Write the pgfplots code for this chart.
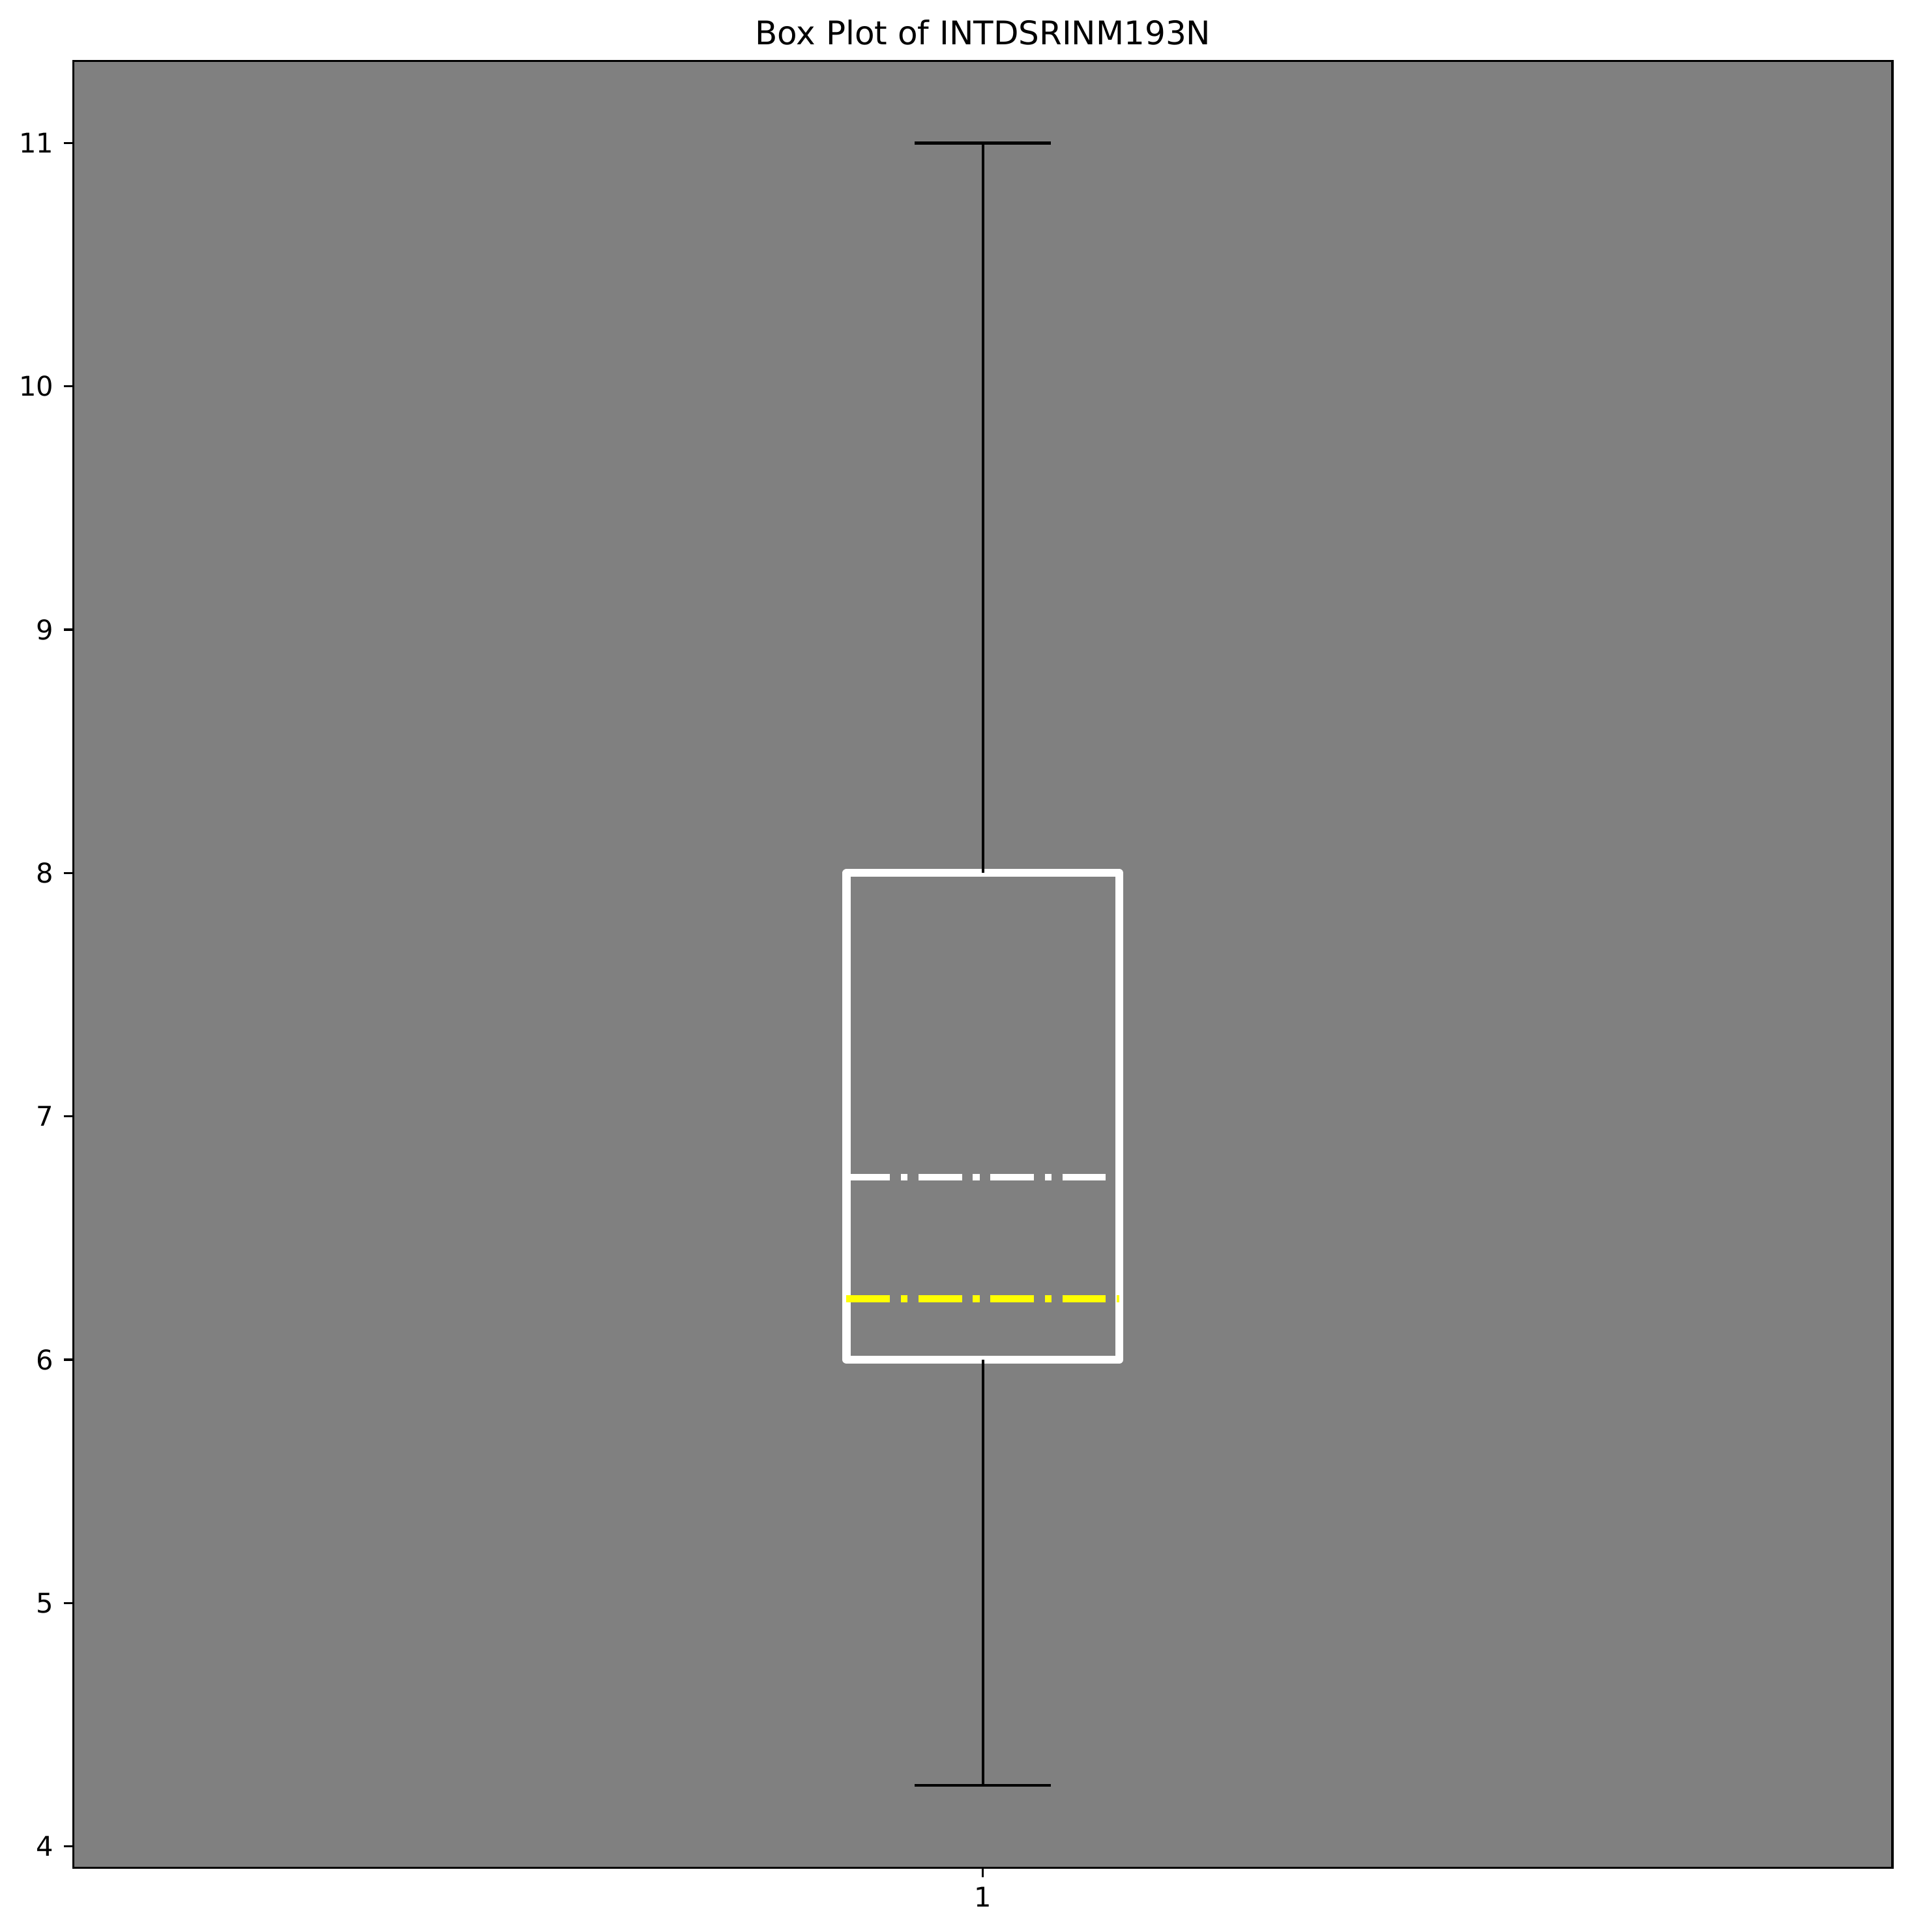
\documentclass[border=0pt]{standalone}
\usepackage{pgfplots}
\pgfplotsset{compat=1.18}
\usepackage{fontspec}
\setmainfont{DejaVu Sans}
\definecolor{bggray}{RGB}{128,128,128}
\definecolor{medyellow}{RGB}{255,255,0}
\begin{document}
\begin{tikzpicture}
\path[use as bounding box] (-27pt,-23.7pt) rectangle (676.68pt,687.64pt);
\begin{axis}[
  scale only axis, width=669.7pt, height=665.2pt,
  xmin=0.5, xmax=1.5, ymin=3.9125, ymax=11.3375,
  axis background/.style={fill=bggray},
  axis line style={line width=0.8pt, black},
  xtick={1}, ytick={4,5,6,7,8,9,10,11},
  tick align=outside, major tick length=3.5pt,
  tick style={line width=0.8pt, black},
  xtick pos=left, ytick pos=left,
  ticklabel style={font=\fontsize{10}{12}\selectfont},
  /pgf/number format/assume math mode=true,
  yticklabel style={anchor=east, inner sep=0pt, xshift=-3.5pt},
  xticklabel style={anchor=north, inner sep=0pt, yshift=-3.5pt},
  title={Box Plot of INTDSRINM193N},
  every axis title shift=0pt,
  title style={at={(0.5,1)}, anchor=base, yshift=6pt, inner sep=0pt, font=\fontsize{12}{14}\selectfont},
]
% box (Q1 = 6, Q3 = 8)
\addplot[white, line width=2.9pt, line join=round, mark=none]
  coordinates {(0.925,6) (1.075,6) (1.075,8) (0.925,8)} -- cycle;
% whiskers
\addplot[black, line width=1pt, line cap=butt, mark=none] coordinates {(1,8) (1,11)};
\addplot[black, line width=1pt, line cap=butt, mark=none] coordinates {(1,6) (1,4.25)};
% caps
\addplot[black, line width=1pt, line cap=butt, mark=none] coordinates {(0.9625,11) (1.0375,11)};
\addplot[black, line width=1pt, line cap=butt, mark=none] coordinates {(0.9625,4.25) (1.0375,4.25)};
% median
\addplot[medyellow, line width=2.5pt, line cap=butt, dash pattern=on 16pt off 4pt on 2.5pt off 4pt, mark=none]
  coordinates {(0.925,6.25) (1.075,6.25)};
% mean
\addplot[white, line width=2.5pt, line cap=butt, dash pattern=on 16pt off 4pt on 2.5pt off 4pt, mark=none]
  coordinates {(0.925,6.75) (1.075,6.75)};
\end{axis}
\end{tikzpicture}
\end{document}
